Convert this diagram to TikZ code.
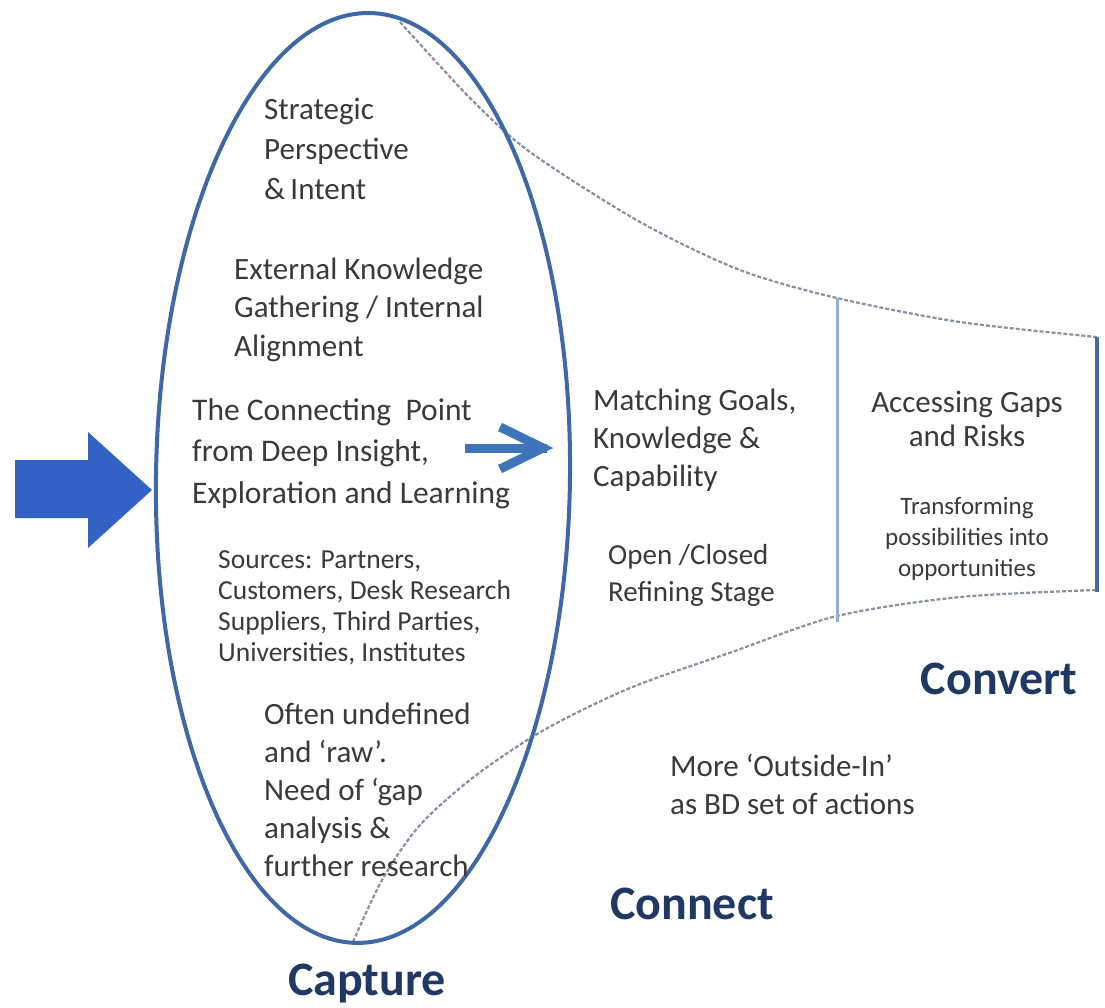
\documentclass[tikz,border=0pt]{standalone}
\usepackage{fontspec}
\setmainfont{Carlito}
\definecolor{ellblue}{RGB}{62,104,168}
\definecolor{bigblue}{RGB}{52,98,196}
\definecolor{arrblue}{RGB}{61,116,186}
\definecolor{txtgray}{RGB}{58,58,58}
\definecolor{labelblue}{RGB}{31,56,100}
\definecolor{funnelgray}{RGB}{135,145,162}
\definecolor{midline}{RGB}{150,175,208}
\definecolor{rightline}{RGB}{72,106,160}
\begin{document}
\begin{tikzpicture}[x=1pt,y=-1pt,
  txt/.style={inner sep=0pt, text=txtgray, align=left, anchor=base west,
    font=\fontsize{31}{40}\selectfont},
  ctxt/.style={inner sep=0pt, text=txtgray, align=center, anchor=base,
    font=\fontsize{31}{34}\selectfont},
  stagelabel/.style={inner sep=0pt, text=labelblue, anchor=base,
    font=\fontsize{48}{56}\selectfont\bfseries},
  funnel/.style={draw=funnelgray, line width=2.2pt, dash pattern=on 4pt off 2pt},
  smallarrow/.style={draw=arrblue, line width=9pt}]
\useasboundingbox (0,0) rectangle (1105,1007);
\fill[white] (0,0) rectangle (1105,1007);

% funnel outline
\draw[funnel] plot[smooth] coordinates {(400,22) (470,98) (530,152) (640,222) (740,270) (837,298) (960,322) (1097,337)};
\draw[funnel] plot[smooth] coordinates {(353,942) (382,880) (420,825) (475,776) (544,730) (630,688) (732,652) (837,616) (960,597) (1097,590)};

\coordinate (midtop) at (837,298);
\coordinate (midbot) at (837,622);
\coordinate (righttop) at (1097,337);
\coordinate (rightbot) at (1097,592);
\draw[midline, line width=3pt] (midtop) -- (midbot);
\draw[rightline, line width=4pt] (righttop) -- (rightbot);

% capture ellipse
\coordinate (ellc) at (363,478);
\draw[ellblue, line width=4pt, rotate around={-0.8:(ellc)}] (ellc) ellipse [x radius=207, y radius=465];

% big input arrow
\fill[bigblue] (15,460) -- (88,460) -- (88,432) -- (152,490) -- (88,548) -- (88,518) -- (15,518) -- cycle;

% ellipse texts (anchor = baseline of the last line)
\node[txt] (strat) at (264,199) {Strategic\\Perspective\\\&\,Intent};
\node[txt, font=\fontsize{31}{38.5}\selectfont] (ext) at (234,356) {External Knowledge\\Gathering / Internal\\Alignment};
\node[txt, font=\fontsize{31.5}{41.5}\selectfont] (conn) at (192,503) {The Connecting~ Point\\from Deep Insight,\\Exploration and Learning};
\node[txt, font=\fontsize{27.5}{31}\selectfont] (src) at (218,661) {Sources: Partners,\\Customers, Desk Research\\Suppliers, Third Parties,\\Universities, Institutes};
\node[txt, font=\fontsize{31}{38}\selectfont] (often) at (264,876) {Often undefined\\and ‘raw’.\\Need of ‘gap\\analysis \&\\further research};

% small arrow
\coordinate (sa) at (465,448);
\coordinate (sb) at (547,448);
\coordinate (stip) at (543,448);
\draw[smallarrow] (sa) -- (sb);
\draw[smallarrow, line join=miter] ([xshift=-43pt,yshift=-21pt]stip) -- (stip) -- ([xshift=-43pt,yshift=21pt]stip);

% connect stage texts
\node[txt, font=\fontsize{31}{38}\selectfont] (match) at (593,486) {Matching Goals,\\Knowledge \&\\Capability};
\node[txt, font=\fontsize{29}{37}\selectfont] (open) at (608,601) {Open /Closed\\Refining Stage};
\node[txt, font=\fontsize{31}{38}\selectfont] (outside) at (670,814) {More ‘Outside-In’\\as BD set of actions};

% convert stage texts
\node[ctxt, font=\fontsize{31}{34}\selectfont] (gaps) at (967,446) {Accessing Gaps\\and Risks};
\node[ctxt, font=\fontsize{25}{31}\selectfont] (trans) at (967,576) {Transforming\\possibilities into\\opportunities};

% stage labels
\node[stagelabel] (capture) at (367,995) {Capture};
\node[stagelabel] (connect) at (692,919) {Connect};
\node[stagelabel] (convert) at (999,694) {Convert};
\end{tikzpicture}
\end{document}
